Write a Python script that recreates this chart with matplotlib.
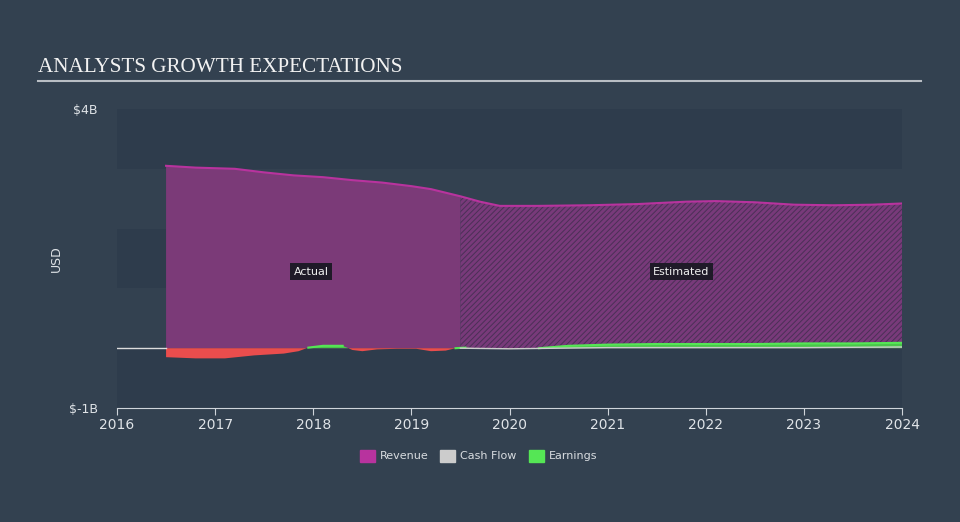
import numpy as np
import matplotlib.pyplot as plt

# values in billions USD
rev_t = [2016.5, 2016.8, 2017.2, 2017.5, 2017.8, 2018.1, 2018.4, 2018.7, 2019.0, 2019.2, 2019.5,
         2019.7, 2019.9, 2020.3, 2020.8, 2021.3, 2021.8, 2022.1, 2022.5, 2022.9, 2023.3, 2023.7, 2024.0]
rev_v = [3.05, 3.02, 3.00, 2.94, 2.89, 2.86, 2.81, 2.77, 2.71, 2.66, 2.54,
         2.45, 2.38, 2.38, 2.39, 2.41, 2.45, 2.46, 2.44, 2.40, 2.39, 2.40, 2.42]

earn_t = [2016.5, 2016.8, 2017.1, 2017.4, 2017.7, 2017.85, 2017.95, 2018.1, 2018.3, 2018.4, 2018.5,
          2018.65, 2018.85, 2019.05, 2019.2, 2019.35, 2019.45, 2019.55, 2019.8, 2020.0, 2020.3,
          2020.6, 2021.0, 2021.5, 2022.0, 2022.5, 2023.0, 2023.5, 2024.0]
earn_v = [-0.15, -0.17, -0.17, -0.12, -0.09, -0.05, 0.01, 0.04, 0.04, -0.03, -0.05,
          -0.02, -0.01, -0.01, -0.05, -0.04, 0.00, 0.01, -0.01, -0.01, 0.00,
          0.04, 0.06, 0.07, 0.07, 0.07, 0.08, 0.08, 0.09]

cash_t = [2019.5, 2020.0, 2020.5, 2021.0, 2022.0, 2023.0, 2024.0]
cash_v = [0.00, -0.01, 0.00, 0.01, 0.01, 0.01, 0.02]

split_year = 2019.5
bg = "#334150"
band = "#2e3c4c"

plt.rcParams["hatch.linewidth"] = 0.7
fig = plt.figure(figsize=(9.6, 5.22), dpi=100, facecolor=bg)
ax = fig.add_axes([117 / 960, 1 - 408 / 522, 785 / 960, 299 / 522])
ax.set_facecolor(bg)
ax.set_xlim(2016, 2024)
ax.set_ylim(-1, 4)

# alternating horizontal bands
for lo, hi in [(-1, 0), (1, 2), (3, 4)]:
    ax.axhspan(lo, hi, color=band, zorder=0, lw=0)

rt = np.array(rev_t)
rv = np.array(rev_v)
act = rt <= split_year
est = rt >= split_year
ax.fill_between(rt[act], 0, rv[act], facecolor="#7b3a78", lw=0, zorder=2)
ax.fill_between(rt[est], 0, rv[est], facecolor="#783a7a", edgecolor="#4a3056",
                hatch="//////", lw=0, zorder=2)
ax.plot(rt, rv, color="#b8339e", lw=1.5, zorder=3)

et = np.array(earn_t)
ev = np.array(earn_v)
ax.fill_between(et, 0, ev, where=ev <= 0, interpolate=True, color="#ea4d4d", lw=0, zorder=4)
ax.fill_between(et, 0, ev, where=ev >= 0, interpolate=True, color="#49c64a", lw=0, zorder=4)
ax.plot(et, np.where(ev >= 0, ev, np.nan), color="#55e655", lw=1.5, zorder=5)
ax.plot(cash_t, cash_v, color="#cccccc", lw=1.0, zorder=5)

# zero line
ax.plot([2016, 2016.5], [0, 0], color="#dddddd", lw=1, zorder=5)

for s in ["top", "right", "left"]:
    ax.spines[s].set_visible(False)
ax.spines["bottom"].set_color("#cfd4da")
ax.tick_params(axis="x", colors="#cfd4da", labelcolor="#e0e4e8", labelsize=10, length=5, pad=2)
ax.set_xticks(range(2016, 2025))
ax.set_yticks([-1, 4])
ax.set_yticklabels(["$-1B", "$4B"], fontsize=9, color="#dfe3e7")
ax.tick_params(axis="y", length=0, pad=14)
ax.set_ylabel("USD", color="#dfe3e7", fontsize=9, labelpad=4)

def tag(x, y, s):
    ax.text(x, y, s, color="#f0f0f0", fontsize=8, ha="center", va="center", zorder=6,
            bbox=dict(boxstyle="square,pad=0.3", fc="#1f1a28", ec="none"))

tag(2017.98, 1.28, "Actual")
tag(2021.75, 1.28, "Estimated")

fig.text(38 / 960, 1 - 67 / 522, "ANALYSTS GROWTH EXPECTATIONS", family="Liberation Serif",
         fontsize=15.2, color="#f2f2f2", va="center", ha="left")
fig.add_artist(plt.Line2D([38 / 960, 921 / 960], [1 - 81 / 522] * 2, color="#b9bec4", lw=1.5))

# legend
items = [("Revenue", "#b8339e"), ("Cash Flow", "#cccccc"), ("Earnings", "#55e655")]
xs = [360, 440, 529]
for (name, c), x in zip(items, xs):
    fig.patches.append(plt.Rectangle((x / 960, 1 - 462 / 522), 15 / 960, 12 / 522,
                                     transform=fig.transFigure, color=c))
    fig.text((x + 20) / 960, 1 - 456 / 522, name, fontsize=8, color="#d8dce0", va="center")

fig.savefig("out.png", dpi=100, facecolor=bg)
